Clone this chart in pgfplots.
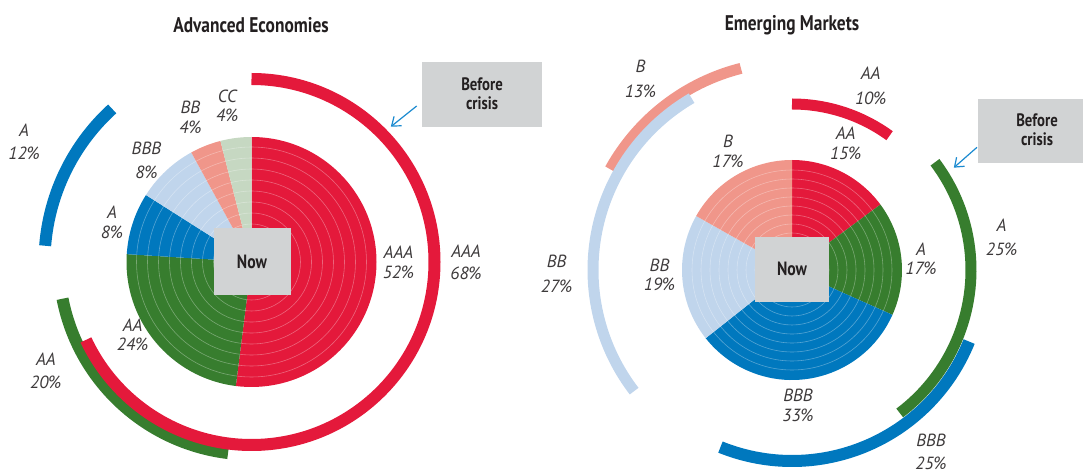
\documentclass[border=0pt]{standalone}
\usepackage{pgfplots}
\pgfplotsset{compat=1.18}
\usepackage{fontspec}
\setmainfont{PT Sans}
\newfontfamily\condf{PT Sans}[FakeStretch=0.82]
\usetikzlibrary{arrows.meta}

\definecolor{cRed}{HTML}{E4193B}
\definecolor{cGreen}{HTML}{377D2E}
\definecolor{cBlue}{HTML}{0078BE}
\definecolor{cLBlue}{HTML}{C0D5EC}
\definecolor{cSalmon}{HTML}{F0968A}
\definecolor{cPale}{HTML}{C6D8C2}
\definecolor{cGray}{HTML}{D1D3D4}
\definecolor{cText}{HTML}{231F20}
\definecolor{cArrow}{HTML}{1B8AD0}

% pie slice: cx, cy, radius(px), cumulative start (pct), share (pct), colour, total
\newcommand\slice[7]{%
  \pgfmathsetmacro\aA{90-((#4)/(#7))*360}%
  \pgfmathsetmacro\aB{90-((#4+#5)/(#7))*360}%
  \edef\tmp{\noexpand\fill[#6] (axis cs:#1,#2) -- ++(\aA:#3*0.5pt) arc[start angle=\aA, end angle=\aB, radius=#3*0.5pt] -- cycle;}%
  \tmp}
% before-crisis ring: cx, cy, radius(px), start angle (deg clockwise from top), share (pct), width(px), colour
\newcommand\ring[7]{%
  \pgfmathsetmacro\aA{90-(#4)}%
  \pgfmathsetmacro\aB{90-(#4)-(#5)*3.6}%
  \edef\tmp{\noexpand\draw[#7, line width=#6*0.5pt] (axis cs:#1,#2) ++(\aA:#3*0.5pt) arc[start angle=\aA, end angle=\aB, radius=#3*0.5pt];}%
  \tmp}
\tikzset{lab/.style={font=\itshape\fontsize{8.8}{10}\selectfont, text=cText!88, inner sep=0pt, anchor=center}}
\newcommand\lab[5]{\node[lab] at (axis cs:#1,#2) {#4}; \node[lab] at (axis cs:#1,#3) {#5};}

\begin{document}
\begin{tikzpicture}
\useasboundingbox (0,0) rectangle (541.5pt,235pt);
\begin{axis}[x=0.5pt, y=0.5pt, y dir=reverse, xmin=0, xmax=1083, ymin=0, ymax=470,
  hide axis, anchor=south west, at={(0,0)}, clip=true]

%% ---------------- Advanced Economies ----------------
% before crisis
\ring{251.5}{262}{192.5}{187}{20}{12}{cGreen}
\ring{251.5}{262}{183}{0}{68}{12}{cRed}
\ring{251.5}{262}{207}{274.5}{12}{12}{cBlue}
% now (total 100)
\slice{251.5}{262}{125}{0}{52}{cRed}{100}
\slice{251.5}{262}{125}{52}{24}{cGreen}{100}
\slice{251.5}{262}{125}{76}{8}{cBlue}{100}
\slice{251.5}{262}{125}{84}{8}{cLBlue}{100}
\slice{251.5}{262}{125}{92}{4}{cSalmon}{100}
\slice{251.5}{262}{125}{96}{4}{cPale}{100}
\pgfplotsinvokeforeach{0,...,9}{\draw[white, opacity=0.33, line width=0.3pt] (axis cs:251.5,262) circle[radius={(115-11*#1)*0.5pt}];}
\fill[cGray] (axis cs:213.5,228) rectangle (axis cs:291,295);
\node[font=\condf\bfseries\fontsize{9.6}{10}\selectfont, text=cText] at (axis cs:252,262) {Now};
\fill[cGray] (axis cs:422,62) rectangle (axis cs:542,127);
\node[font=\condf\bfseries\fontsize{9}{9.7}\selectfont, text=cText, align=center] at (axis cs:482,93.5) {Before\\crisis};
\draw[cArrow, line width=0.6pt, -{Straight Barb[length=4pt, width=6pt]}] (axis cs:416.7,106) -- (axis cs:390.8,126.7);
\node[font=\condf\bfseries\fontsize{10.6}{12}\selectfont, text=cText] at (axis cs:251,25.5) {Advanced Economies};
\lab{398.4}{252.7}{272.3}{AAA}{52\%}
\lab{466}{251.7}{273.3}{AAA}{68\%}
\lab{132.6}{325.7}{344}{AA}{24\%}
\lab{45.8}{359.3}{382.7}{AA}{20\%}
\lab{24.1}{130}{153.3}{A}{12\%}
\lab{112}{212.7}{232}{A}{8\%}
\lab{146.4}{148.3}{172.3}{BBB}{8\%}
\lab{190.4}{107.7}{127.7}{BB}{4\%}
\lab{227.3}{96.7}{115}{CC}{4\%}

%% ---------------- Emerging Markets ----------------
% before crisis
\ring{792}{270}{208}{299}{13}{11}{cSalmon}
\ring{792}{270}{199}{232.5}{27}{11}{cLBlue}
\ring{792}{270}{166}{0}{10}{11}{cRed}
\ring{792}{270}{191}{112}{25}{12}{cBlue}
\ring{792}{270}{179}{53}{25}{11}{cGreen}
% now (shares as printed, total 101)
\slice{792}{270}{110}{0}{15}{cRed}{101}
\slice{792}{270}{110}{15}{17}{cGreen}{101}
\slice{792}{270}{110}{32}{33}{cBlue}{101}
\slice{792}{270}{110}{65}{19}{cLBlue}{101}
\slice{792}{270}{110}{84}{17}{cSalmon}{101}
\pgfplotsinvokeforeach{0,...,9}{\draw[white, opacity=0.33, line width=0.3pt] (axis cs:792,270) circle[radius={(100-9*#1)*0.5pt}];}
\fill[cGray] (axis cs:754.7,236.7) rectangle (axis cs:829,301.7);
\node[font=\condf\bfseries\fontsize{9.6}{10}\selectfont, text=cText] at (axis cs:792,269) {Now};
\fill[cGray] (axis cs:978,99.3) rectangle (axis cs:1083,163.3);
\node[font=\condf\bfseries\fontsize{9}{9.7}\selectfont, text=cText, align=center] at (axis cs:1037,129.5) {Before\\crisis};
\draw[cArrow, line width=0.6pt, -{Straight Barb[length=4pt, width=6pt]}] (axis cs:977,147.3) -- (axis cs:953.8,167.7);
\node[font=\condf\bfseries\fontsize{10.6}{12}\selectfont, text=cText] at (axis cs:792,25.5) {Emerging Markets};
\lab{870.7}{73.3}{98.3}{AA}{10\%}
\lab{845.7}{133.3}{153.3}{AA}{15\%}
\lab{728}{141}{161}{B}{17\%}
\lab{640.4}{66}{91.7}{B}{13\%}
\lab{1001.6}{225}{249.3}{A}{25\%}
\lab{921}{249.3}{268.3}{A}{17\%}
\lab{659.5}{265}{284.3}{BB}{19\%}
\lab{556.6}{261.7}{286.7}{BB}{27\%}
\lab{798}{395}{415}{BBB}{33\%}
\lab{931}{440}{463.3}{BBB}{25\%}
\end{axis}
\end{tikzpicture}
\end{document}
